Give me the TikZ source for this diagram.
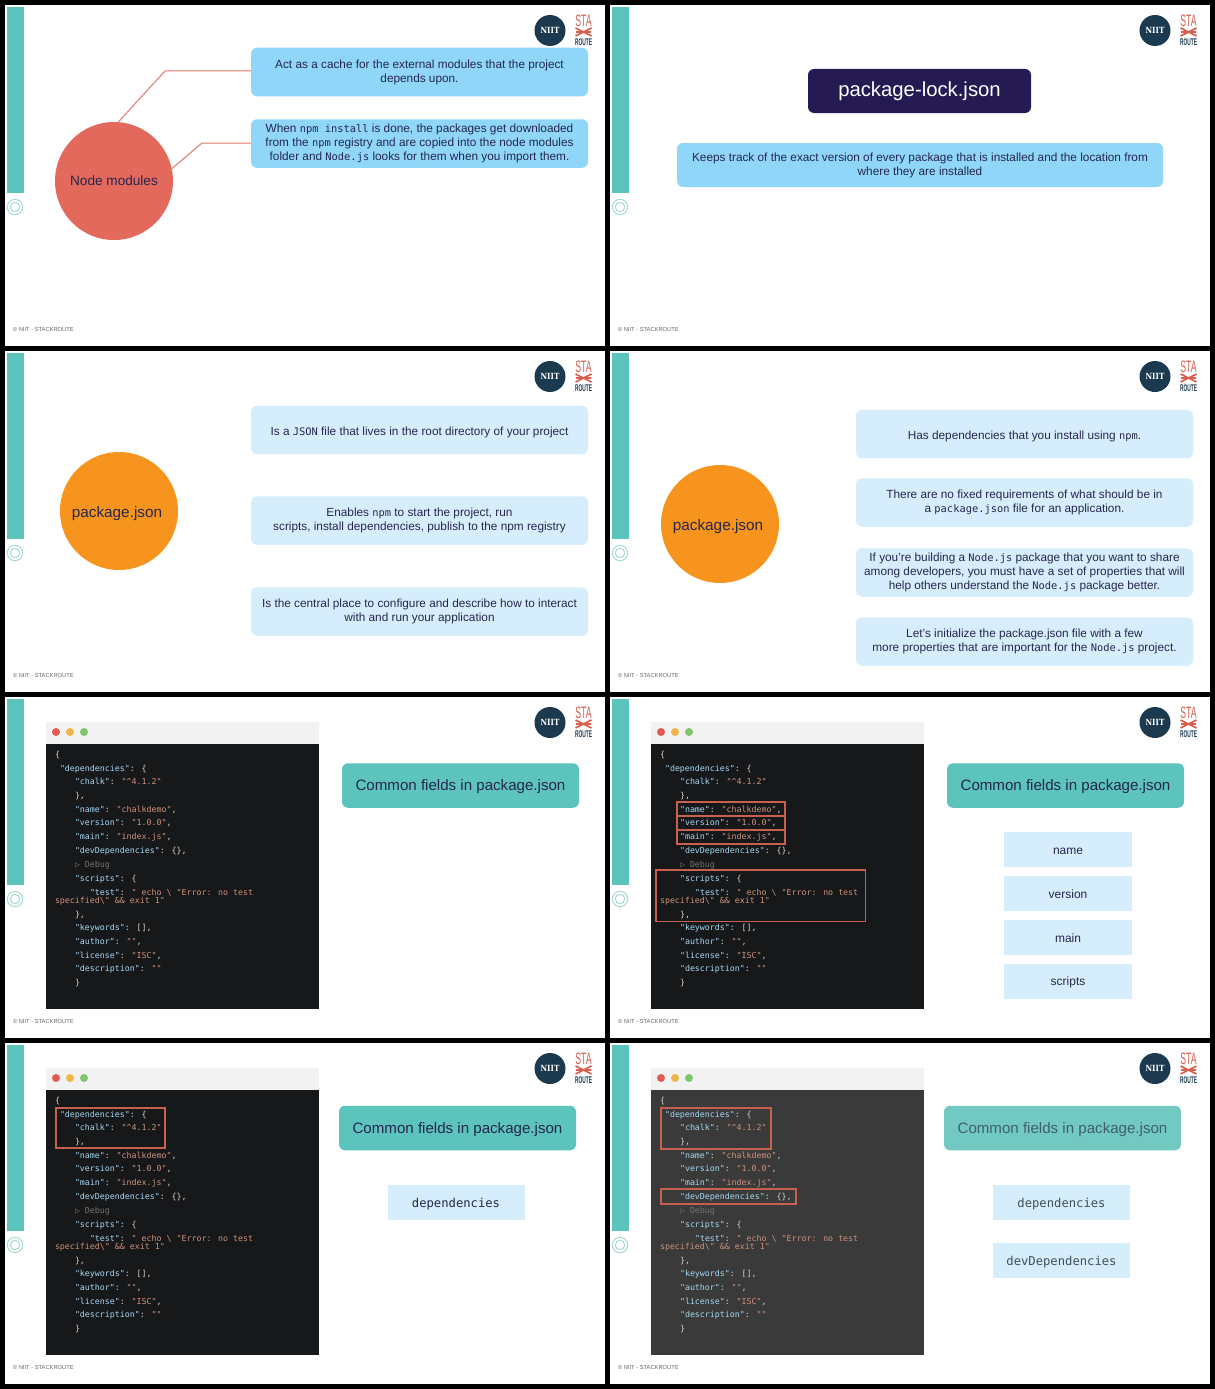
\documentclass[tikz,border=0pt]{standalone}
\usepackage{fontspec}
\setmainfont{Liberation Sans}
\newfontfamily\cf{DejaVu Sans Mono}
\newfontfamily\logofont{DejaVu Serif}
\definecolor{teal1}{HTML}{5CC4BC}
\definecolor{ringc}{HTML}{A5DAD6}
\definecolor{navyl}{HTML}{1B3A4F}
\definecolor{red1}{HTML}{D9604F}
\definecolor{blueA}{HTML}{8FD6F8}
\definecolor{blueB}{HTML}{D6EEFB}
\definecolor{ink}{HTML}{26264F}
\definecolor{keyc}{HTML}{A4D8F4}
\definecolor{strc}{HTML}{CE9178}
\definecolor{punc}{HTML}{D4D4D4}
\definecolor{hl}{HTML}{C8604F}
\definecolor{darkA}{HTML}{17181A}
\definecolor{darkB}{HTML}{3A3A3A}
\definecolor{dotr}{HTML}{E25B50}
\definecolor{doty}{HTML}{EFB548}
\definecolor{dotg}{HTML}{7DC66A}
\definecolor{coral}{HTML}{E2695C}
\definecolor{orng}{HTML}{F7941D}
\definecolor{deep}{HTML}{261A52}
\definecolor{tealfade}{HTML}{72C9C1}
\definecolor{inkfade}{HTML}{3F5F70}
\definecolor{inkmono}{HTML}{3F4F60}
\newcommand{\ckey}[1]{\textcolor{keyc}{#1}}
\newcommand{\cstr}[1]{\textcolor{strc}{#1}}
\newcommand{\cmono}[1]{{\cf\fontsize{10.4}{14.1}\selectfont #1}}
\tikzset{
 x=1pt,y=-1pt,
 every node/.style={inner sep=0pt,outer sep=0pt},
 nudge/.style={execute at begin node={\rule{0pt}{#1}}},
 body/.style={font=\fontsize{11.8}{14.1}\selectfont,text=ink,align=center,nudge=13.5pt},
 oneline/.style={body,execute at begin node={\rule{0pt}{11pt}}},
 wide/.style={body,rounded corners=6pt,minimum width=337pt,minimum height=48.5pt},
 widea/.style={wide,fill=blueA},
 wideb/.style={wide,fill=blueB},
 bigc/.style={circle,minimum size=118pt,font=\fontsize{13.6}{16}\selectfont,text=ink},
 pkgc/.style={bigc,fill=orng,font=\fontsize{15.3}{17}\selectfont,nudge=16pt},
 linkl/.style={draw=red1!85!white,line width=1pt},
 titlebox/.style={rounded corners=6pt,fill=teal1,minimum width=237pt,minimum height=44.5pt,text=ink,font=\fontsize{15.1}{18}\selectfont,nudge=14pt},
 smallb/.style={fill=blueB,text=ink,font=\fontsize{12}{14}\selectfont},
 field/.style={smallb,minimum width=128pt,minimum height=35pt,nudge=10.5pt},
 mfield/.style={smallb,minimum width=137pt,minimum height=35pt,font=\cf\fontsize{12.2}{14}\selectfont,nudge=12.3pt},
 codeln/.style={anchor=base west,font=\cf\fontsize{8.3}{10}\selectfont,text=punc},
 markr/.style={draw=hl,line width=1.3pt},
}
\newcommand{\slidepanel}[3]{%
 \begin{scope}[shift={(#2,#3)}]
 \fill[white] (0,0) rectangle (600,341);
 \fill[teal1] (2,2) rectangle (19,188);
 \draw[ringc,line width=1pt] (10,202) circle[radius=7.7pt] (10,202) circle[radius=4.7pt];
 \node[circle,fill=navyl,minimum size=31pt] (#1n) at (545,25.5) {};
 \node[text=white,xscale=0.85,font=\logofont\fontsize{8.5}{9}\bfseries] (#1t) at (545,25.5) {NIIT};
 \node[text=red1,xscale=0.53,font=\fontsize{16.5}{16.5}\selectfont] (#1s) at (578.5,16) {STA};
 \draw[red1,line width=1.6pt] (570.5,23) -- (586.5,31) (586.5,23) -- (570.5,31) (571,27) -- (586,27);
 \node[text=navyl,xscale=0.5,font=\fontsize{9.7}{10}\bfseries] (#1r) at (578.5,37.5) {ROUTE};
 \node[anchor=west,text=black!60,font=\fontsize{5.75}{6}\selectfont] (#1f) at (8,325) {© NIIT - STACKROUTE};
 \end{scope}}
\newcommand{\cln}[5]{\node[codeln] (#1#2) at (#3,#4) {#5};}
\newcommand{\codewin}[4]{%
 \begin{scope}[shift={(#2,#3)}]
 \fill[black!5] (41,25) rectangle (314,47);
 \fill[#4] (41,47) rectangle (314,312);
 \fill[dotr] (51,35) circle[radius=4pt];
 \fill[doty] (65,35) circle[radius=4pt];
 \fill[dotg] (79,35) circle[radius=4pt];
 \cln{#1}{a}{50}{60}{\{}
 \cln{#1}{b}{55}{74}{\ckey{"dependencies"}: \{}
 \cln{#1}{c}{70}{87.5}{\ckey{"chalk"}: \cstr{"\textasciicircum 4.1.2"}}
 \cln{#1}{d}{70}{101}{\},}
 \cln{#1}{e}{70}{115}{\ckey{"name"}: \cstr{"chalkdemo"},}
 \cln{#1}{f}{70}{128.5}{\ckey{"version"}: \cstr{"1.0.0"},}
 \cln{#1}{g}{70}{142}{\ckey{"main"}: \cstr{"index.js"},}
 \cln{#1}{h}{70}{156}{\ckey{"devDependencies"}: \{\},}
 \cln{#1}{i}{70}{170}{\textcolor{black!55}{▷ Debug}}
 \cln{#1}{j}{70}{184}{\ckey{"scripts"}: \{}
 \cln{#1}{k}{85}{198}{\ckey{"test"}: \cstr{" echo \textbackslash\ "Error: no test}}
 \cln{#1}{l}{50}{206.5}{\cstr{specified\textbackslash" \&\& exit 1"}}
 \cln{#1}{m}{70}{220}{\},}
 \cln{#1}{n}{70}{233.5}{\ckey{"keywords"}: [],}
 \cln{#1}{o}{70}{247}{\ckey{"author"}: \cstr{""},}
 \cln{#1}{p}{70}{261}{\ckey{"license"}: \cstr{"ISC"},}
 \cln{#1}{q}{70}{274.5}{\ckey{"description"}: \cstr{""}}
 \cln{#1}{r}{70}{288}{\}}
 \end{scope}}
\begin{document}
\begin{tikzpicture}
\useasboundingbox (0,0) rectangle (1215,1389);
\fill[black] (0,0) rectangle (1215,1389);
\slidepanel{sa}{5}{5}
\slidepanel{sb}{610}{5}
\slidepanel{sc}{5}{351}
\slidepanel{sd}{610}{351}
\slidepanel{se}{5}{697}
\slidepanel{sf}{610}{697}
\slidepanel{sg}{5}{1043}
\slidepanel{sh}{610}{1043}
% panel 1
\node[bigc,fill=coral] (nm) at (114,181) {Node modules};
\node[widea] (a1) at (419.5,72) {Act as a cache for the external modules that the project\\depends upon.};
\node[widea] (a2) at (419.5,143.5) {When \cmono{npm install} is done, the packages get downloaded\\from the \cmono{npm} registry and are copied into the node modules\\folder and \cmono{Node.js} looks for them when you import them.};
\coordinate (e1) at (165,71);
\coordinate (e2) at (202,143);
\draw[linkl] (nm.86) -- (e1) -- (a1.west|-e1);
\draw[linkl] (nm.12) -- (e2) -- (a2.west|-e2);
% panel 2
\node[rounded corners=6pt,fill=deep,text=white,minimum width=223pt,minimum height=44pt,font=\fontsize{20.3}{22}\selectfont] (lock) at (919.5,91) {package-lock.json};
\node[body,rounded corners=6pt,fill=blueA,minimum width=486pt,minimum height=44pt] (lockd) at (920,165) {Keeps track of the exact version of every package that is installed and the location from\\where they are installed};
% panel 3
\node[pkgc] (pa) at (119,511) {\hspace*{-4pt}package.json};
\node[wideb,oneline] (c1) at (419.5,430) {Is a \cmono{JSON} file that lives in the root directory of your project};
\node[wideb] (c2) at (419.5,520.5) {Enables \cmono{npm} to start the project, run\\scripts, install dependencies, publish to the npm registry};
\node[wideb] (c3) at (419.5,611.5) {Is the central place to configure and describe how to interact\\with and run your application};
% panel 4
\node[pkgc] (pb) at (720,524) {\hspace*{-4pt}package.json};
\node[wideb,oneline] (d1) at (1024.5,434) {Has dependencies that you install using \cmono{npm}.};
\node[wideb] (d2) at (1024.5,502.5) {There are no fixed requirements of what should be in\\a \cmono{package.json} file for an application.};
\node[wideb] (d3) at (1024.5,572.5) {If you're building a \cmono{Node.js} package that you want to share\\among developers, you must have a set of properties that will\\help others understand the \cmono{Node.js} package better.};
\node[wideb] (d4) at (1024.5,641.5) {Let's initialize the package.json file with a few\\more properties that are important for the \cmono{Node.js} project.};
% panel 5
\codewin{we}{5}{697}{darkA}
\node[titlebox] (te) at (460.5,785.5) {Common fields in package.json};
% panel 6
\codewin{wf}{610}{697}{darkA}
\node[titlebox] (tf) at (1065.5,785.5) {Common fields in package.json};
\node[field] (f1) at (1068,849.5) {name};
\node[field] (f2) at (1068,893.5) {version};
\node[field] (f3) at (1068,937.5) {main};
\node[field] (f4) at (1068,981.5) {scripts};
\draw[markr] (677,802) rectangle (785,816);
\draw[markr] (677,816) rectangle (785,830);
\draw[markr] (677,830) rectangle (785,844);
\draw[markr] (656,870) rectangle (865.5,921.5);
% panel 7
\codewin{wg}{5}{1043}{darkA}
\node[titlebox] (tg) at (457.5,1128) {Common fields in package.json};
\node[mfield] (g1) at (456,1202.5) {dependencies};
\draw[markr] (56,1108) rectangle (165,1148);
% panel 8
\codewin{wh}{610}{1043}{darkB}
\node[titlebox,fill=tealfade,text=inkfade] (th) at (1062.5,1128) {Common fields in package.json};
\node[mfield,text=inkmono] (h1) at (1061.5,1202.5) {dependencies};
\node[mfield,text=inkmono] (h2) at (1061.5,1260.5) {devDependencies};
\draw[markr] (661,1108) rectangle (771,1149);
\draw[markr] (661,1189) rectangle (796,1204);
\end{tikzpicture}
\end{document}
